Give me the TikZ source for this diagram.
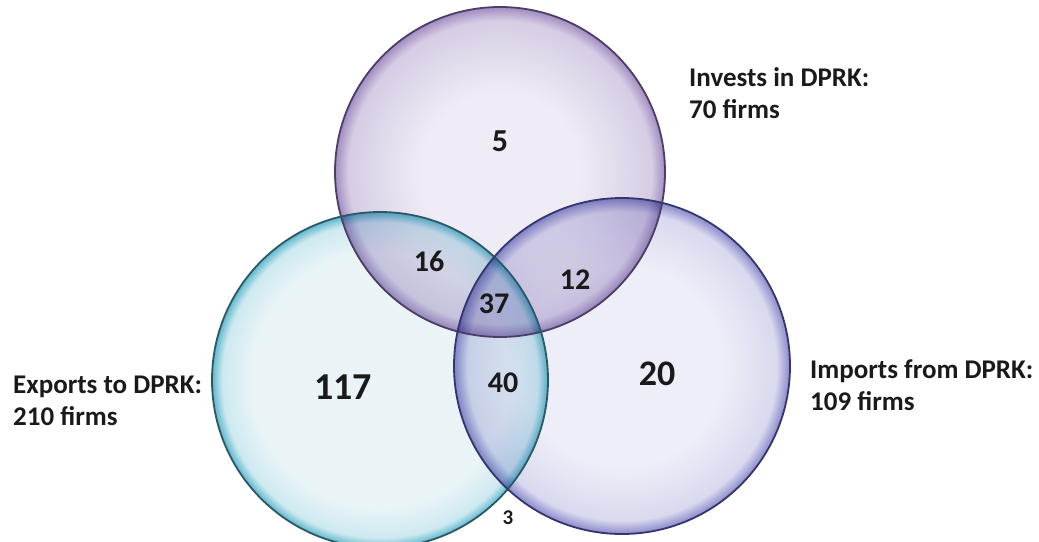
\documentclass[tikz,border=0pt]{standalone}
\usepackage{fontspec}
\setmainfont{Carlito}
\definecolor{investin}{HTML}{F0ECF5}
\definecolor{investmid}{HTML}{D6CCE4}
\definecolor{investrim}{HTML}{A08CC0}
\definecolor{investedge}{HTML}{4B3D66}
\definecolor{exportin}{HTML}{EAF4F7}
\definecolor{exportmid}{HTML}{CDE9F0}
\definecolor{exportrim}{HTML}{5FB8CC}
\definecolor{exportedge}{HTML}{2C5866}
\definecolor{importin}{HTML}{EEEEF8}
\definecolor{importmid}{HTML}{D9D9EF}
\definecolor{importrim}{HTML}{8A8ACB}
\definecolor{importedge}{HTML}{34346E}
\definecolor{textink}{HTML}{1A1A1A}
\pgfdeclareradialshading{investglass}{\pgfpoint{0bp}{0bp}}{color(0bp)=(investin); color(12bp)=(investin); color(23bp)=(investmid); color(25bp)=(investrim); color(50bp)=(investrim)}
\pgfdeclareradialshading{exportglass}{\pgfpoint{0bp}{0bp}}{color(0bp)=(exportin); color(19bp)=(exportin); color(23.5bp)=(exportmid); color(25bp)=(exportrim); color(50bp)=(exportrim)}
\pgfdeclareradialshading{importglass}{\pgfpoint{0bp}{0bp}}{color(0bp)=(importin); color(15bp)=(importin); color(23bp)=(importmid); color(25bp)=(importrim); color(50bp)=(importrim)}
\tikzset{
  setring/.style={circle, inner sep=0pt, shade, blend mode=multiply},
  ringline/.style={line width=1.8pt},
  setlabel/.style={font=\fontsize{27}{32}\selectfont\bfseries, text=textink, align=left, inner sep=0pt, anchor=base west},
  count/.style={font=\fontsize{#1}{#1}\selectfont\bfseries, text=textink, inner sep=0pt}
}
\begin{document}
\begin{tikzpicture}[x=1pt, y=-1pt]
\useasboundingbox (0,0) rectangle (1039,541);
\node[setring, shading=investglass, minimum size=330pt] (invest) at (500,172) {};
\node[setring, shading=exportglass, minimum size=336pt] (export) at (380,380) {};
\node[setring, shading=importglass, minimum size=336pt] (import) at (622,366) {};
\draw[ringline, investedge] (invest.center) circle[radius=165pt];
\draw[ringline, exportedge] (export.center) circle[radius=168pt];
\draw[ringline, importedge] (import.center) circle[radius=168pt];
\node[count=32] (n5) at (500,141) {5};
\node[count=30] (n16) at (429,261) {16};
\node[count=30] (n12) at (575,280) {12};
\node[count=30] (n37) at (494,304) {37};
\node[count=30] (n40) at (503,383) {40};
\node[count=38] (n117) at (343,387) {117};
\node[count=36] (n20) at (657,374) {20};
\node[count=21] (n3) at (508,518) {3};
\node[setlabel] (investlabel) at (689,118) {Invests in DPRK:\\70 firms};
\node[setlabel] (exportlabel) at (13,425) {Exports to DPRK:\\210 firms};
\node[setlabel] (importlabel) at (810,410) {Imports from DPRK:\\109 firms};
\end{tikzpicture}
\end{document}
